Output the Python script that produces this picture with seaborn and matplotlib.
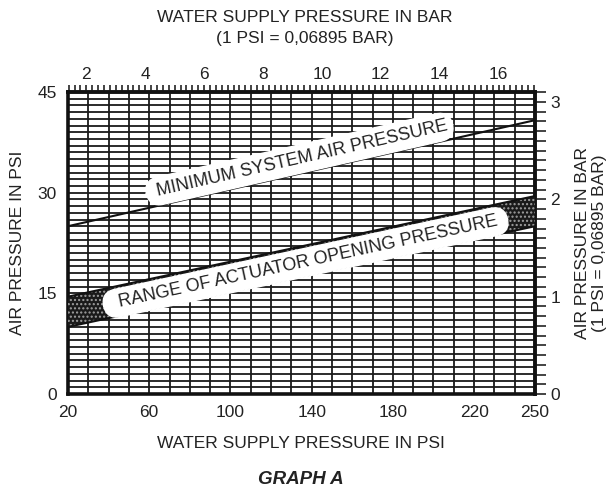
import numpy as np
import seaborn as sns
import matplotlib.pyplot as plt

# values (psi)
water_psi = [20, 250]
min_air_psi = [25, 40.8]
open_low_psi = [10, 25]
open_high_psi = [14.5, 29.5]

x_ticks = [20, 60, 100, 140, 180, 220, 250]
y_ticks = [0, 15, 30, 45]
bar_top_ticks = [2, 4, 6, 8, 10, 12, 14, 16]
bar_right_ticks = [0, 1, 2, 3]

PSI2BAR = 0.06895

sns.set_theme(style='white')
plt.rcParams['font.family'] = ['Liberation Sans', 'DejaVu Sans']
plt.rcParams['hatch.linewidth'] = 1.0

W, H = 616, 491
fig = plt.figure(figsize=(W / 100, H / 100), dpi=100)
ax = fig.add_axes([68 / W, 1 - 394 / H, (535 - 68) / W, (394 - 92) / H])

ax.set_xlim(20, 250)
ax.set_ylim(0, 45)

# grid: every 10 psi across, every 1 psi up
ax.set_xticks(x_ticks)
ax.set_yticks(y_ticks)
ax.set_xticks(np.arange(20, 251, 10), minor=True)
ax.set_yticks(np.arange(0, 46, 1), minor=True)
ax.grid(which='both', color='#1a1a1a', linewidth=1.3)
ax.set_axisbelow(True)
ax.tick_params(which='both', length=0, labelsize=12.5, colors='#222222')
ax.tick_params(axis='x', pad=8)
ax.tick_params(axis='y', pad=8)
for s in ax.spines.values():
    s.set_linewidth(2.6)
    s.set_color('#111111')

# the band
ax.fill_between(water_psi, open_low_psi, open_high_psi, facecolor='#1a1a1a',
                edgecolor='#a0a0a0', hatch='....', linewidth=0, zorder=3)
sns.lineplot(x=water_psi, y=open_low_psi, color='#111111', linewidth=1.5, ax=ax, zorder=3)
sns.lineplot(x=water_psi, y=open_high_psi, color='#111111', linewidth=1.5, ax=ax, zorder=3)
sns.lineplot(x=water_psi, y=min_air_psi, color='#111111', linewidth=1.5, ax=ax, zorder=3)


def screen_angle(xs, ys):
    p = ax.transData.transform(np.column_stack([xs, ys]))
    return np.degrees(np.arctan2(p[1, 1] - p[0, 1], p[1, 0] - p[0, 0]))


box = dict(boxstyle='round,pad=0.3,rounding_size=0.8', facecolor='white', edgecolor='white')
ax.text(134, 35.0, ' MINIMUM SYSTEM AIR PRESSURE', rotation=screen_angle(water_psi, min_air_psi),
        rotation_mode='anchor', ha='center', va='center', fontsize=13, color='#222222',
        bbox=box, zorder=5)
box2 = dict(boxstyle='round,pad=0.3,rounding_size=0.8', facecolor='white', edgecolor='white')
ax.text(137, 19.6, '  RANGE OF ACTUATOR OPENING PRESSURE ', rotation=screen_angle(water_psi, open_low_psi),
        rotation_mode='anchor', ha='center', va='center', fontsize=13, color='#222222',
        bbox=box2, zorder=5)

# bar scales
top = ax.secondary_xaxis('top', functions=(lambda v: v * PSI2BAR, lambda v: v / PSI2BAR))
top.set_xticks(bar_top_ticks)
top.set_xticks(np.arange(1.4, 17.25, 0.2), minor=True)
top.tick_params(which='both', direction='out', length=5, width=1.1, colors='#111111',
                labelsize=12.5, pad=2, labelcolor='#222222')
top.spines['top'].set_linewidth(2.6)

right = ax.secondary_yaxis('right', functions=(lambda v: v * PSI2BAR, lambda v: v / PSI2BAR))
right.set_yticks(bar_right_ticks)
right.set_yticks(np.arange(0, 3.11, 0.1), minor=True)
right.tick_params(which='both', direction='out', length=8, width=1.1, colors='#111111',
                  labelsize=12.5, pad=3, labelcolor='#222222')
right.spines['right'].set_linewidth(2.6)

# titles
txt = dict(ha='center', va='center', fontsize=12.5, color='#222222')
fig.text(305 / W, 1 - 18 / H, 'WATER SUPPLY PRESSURE IN BAR', **txt)
fig.text(305 / W, 1 - 38 / H, '(1 PSI = 0,06895 BAR)', **txt)
fig.text(301 / W, 1 - 444 / H, 'WATER SUPPLY PRESSURE IN PSI', **txt)
fig.text(301 / W, 1 - 479 / H, 'GRAPH A', ha='center', va='center', fontsize=13.5,
         fontweight='bold', fontstyle='italic', color='#222222')
fig.text(18 / W, 1 - 243 / H, 'AIR PRESSURE IN PSI', rotation=90, **txt)
fig.text(591 / W, 1 - 243 / H, 'AIR PRESSURE IN BAR\n(1 PSI = 0,06895 BAR)', rotation=90,
         linespacing=1.2, ha='center', va='center', fontsize=12.5, color='#222222')

fig.savefig('out.png', dpi=100)
